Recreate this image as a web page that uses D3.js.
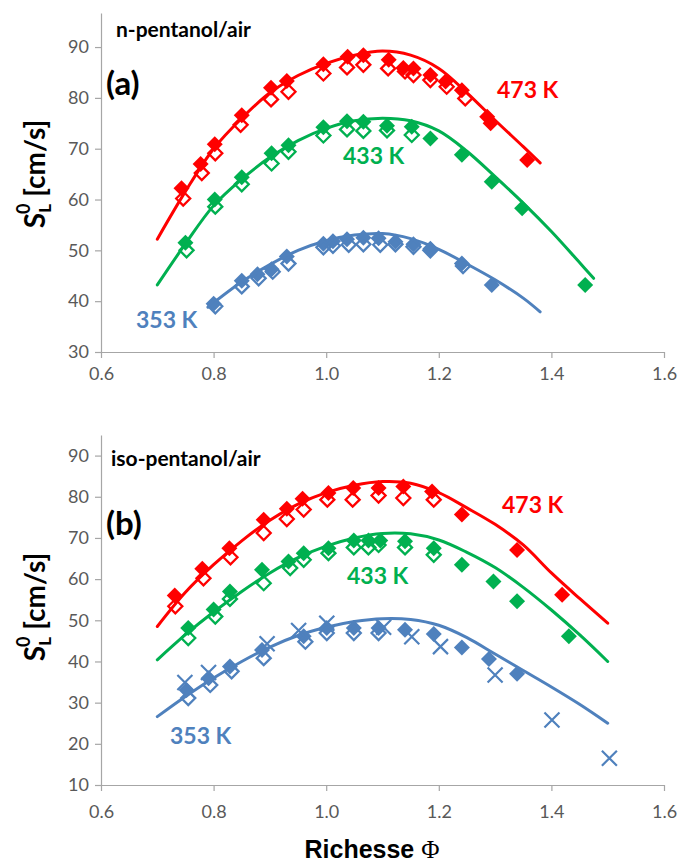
<!DOCTYPE html>
<html>
<head>
<meta charset="utf-8">
<script src="https://cdn.jsdelivr.net/npm/d3@7"></script>
<style>
  html, body { margin: 0; padding: 0; background: #fff; }
  svg { display: block; }
</style>
</head>
<body>
<svg id="chart" width="682" height="862"></svg>
<script>
// ---------------- DATA ----------------
const xTicks = [0.6, 0.8, 1.0, 1.2, 1.4, 1.6];
const yTicksA = [30, 40, 50, 60, 70, 80, 90];
const yTicksB = [10, 20, 30, 40, 50, 60, 70, 80, 90];

// Panel (a) n-pentanol/air — model lines
const lineA473 = [[0.70,52.2],[0.75,61.6],[0.80,70.0],[0.85,76.0],[0.90,81.0],[0.95,84.4],[1.00,86.8],[1.05,88.4],[1.10,89.2],[1.15,88.4],[1.20,85.8],[1.25,81.0],[1.30,75.6],[1.35,70.4],[1.38,67.2]];
const lineA433 = [[0.70,43.2],[0.75,51.3],[0.80,58.8],[0.85,64.0],[0.90,68.3],[0.95,71.6],[1.00,74.0],[1.05,75.5],[1.10,76.0],[1.15,75.5],[1.20,73.5],[1.25,69.5],[1.30,64.5],[1.35,59.3],[1.40,53.7],[1.45,47.6],[1.475,44.5]];
const lineA353 = [[0.79,38.8],[0.85,43.8],[0.90,47.2],[0.95,50.0],[1.00,51.9],[1.05,53.0],[1.10,53.3],[1.15,52.3],[1.20,50.2],[1.25,47.3],[1.30,44.2],[1.35,40.6],[1.38,37.9]];
// Panel (a) measurements: filled and open diamonds
const ptsA473Filled = [[0.743,62.2],[0.777,67.0],[0.802,70.9],[0.850,76.6],[0.902,82.0],[0.930,83.3],[0.995,86.6],[1.038,88.1],[1.066,88.4],[1.111,87.5],[1.137,85.9],[1.155,85.8],[1.185,84.5],[1.212,83.2],[1.241,81.5],[1.286,76.3],[1.292,75.0],[1.357,67.8]];
const ptsA473Open = [[0.746,60.2],[0.779,65.2],[0.803,69.1],[0.848,74.7],[0.902,79.7],[0.933,81.2],[0.995,84.8],[1.037,86.0],[1.066,86.5],[1.110,85.8],[1.140,85.2],[1.155,84.5],[1.185,83.5],[1.214,82.2],[1.247,79.9]];
const ptsA433Filled = [[0.750,51.5],[0.802,60.0],[0.850,64.4],[0.903,69.1],[0.933,70.7],[0.995,74.2],[1.037,75.4],[1.066,75.3],[1.108,74.5],[1.152,74.3],[1.185,72.0],[1.241,68.8],[1.294,63.5],[1.348,58.3],[1.460,43.2]];
const ptsA433Open = [[0.752,50.0],[0.803,58.6],[0.850,63.0],[0.903,67.1],[0.933,69.4],[0.995,72.6],[1.037,73.8],[1.066,73.5],[1.108,73.6],[1.152,72.7]];
const ptsA353Filled = [[0.800,39.5],[0.850,44.0],[0.878,45.3],[0.903,46.3],[0.930,48.8],[0.995,51.3],[1.012,51.8],[1.037,52.2],[1.066,52.5],[1.093,52.4],[1.123,51.7],[1.155,51.2],[1.185,50.3],[1.241,47.4],[1.294,43.2]];
const ptsA353Open = [[0.803,39.0],[0.850,42.9],[0.880,44.5],[0.905,45.8],[0.933,47.4],[0.995,50.6],[1.012,50.9],[1.040,51.1],[1.066,51.2],[1.096,51.1],[1.123,51.2],[1.155,50.7],[1.185,50.0],[1.243,46.9]];

// Panel (b) iso-pentanol/air — model lines
const lineB473 = [[0.70,48.5],[0.75,56.8],[0.80,63.5],[0.85,69.3],[0.90,74.3],[0.95,78.2],[1.00,81.0],[1.05,82.8],[1.10,83.7],[1.15,83.3],[1.20,81.0],[1.25,77.3],[1.30,73.3],[1.35,68.3],[1.40,61.5],[1.45,55.3],[1.50,49.3]];
const lineB433 = [[0.70,40.4],[0.75,46.5],[0.80,52.0],[0.85,57.0],[0.90,61.5],[0.95,65.2],[1.00,68.0],[1.05,70.0],[1.10,71.1],[1.15,71.0],[1.20,69.5],[1.25,66.5],[1.30,62.8],[1.35,58.0],[1.40,52.5],[1.45,46.5],[1.50,40.0]];
const lineB353 = [[0.70,26.6],[0.75,31.5],[0.80,36.0],[0.85,40.0],[0.90,43.5],[0.95,46.3],[1.00,48.3],[1.05,49.7],[1.10,50.4],[1.15,50.2],[1.20,48.8],[1.25,45.8],[1.30,41.8],[1.35,37.8],[1.40,33.8],[1.45,29.6],[1.50,25.0]];
// Panel (b) measurements
const ptsB473Filled = [[0.731,56.0],[0.780,62.5],[0.828,67.5],[0.889,74.4],[0.930,77.1],[0.958,79.5],[1.004,80.9],[1.048,82.1],[1.093,82.1],[1.137,82.5],[1.188,81.3],[1.241,75.7],[1.339,67.1],[1.419,56.2]];
const ptsB473Open = [[0.732,53.4],[0.782,60.2],[0.830,65.3],[0.889,71.2],[0.930,74.6],[0.960,76.9],[1.002,79.3],[1.047,79.3],[1.093,80.3],[1.137,79.7],[1.191,79.3]];
const ptsB433Filled = [[0.755,48.1],[0.800,52.6],[0.829,57.0],[0.886,62.3],[0.933,64.3],[0.960,66.3],[1.004,67.5],[1.049,69.4],[1.075,69.4],[1.096,69.4],[1.140,69.2],[1.191,67.5],[1.241,63.5],[1.297,59.4],[1.339,54.6],[1.431,46.1]];
const ptsB433Open = [[0.755,45.7],[0.803,50.9],[0.829,55.2],[0.889,59.0],[0.936,62.7],[0.960,64.7],[1.004,66.3],[1.049,67.7],[1.075,67.7],[1.093,68.3],[1.140,67.7],[1.191,65.9]];
const ptsB353Filled = [[0.752,33.1],[0.791,35.9],[0.829,38.8],[0.886,42.8],[0.960,46.1],[1.001,48.1],[1.049,48.1],[1.093,48.1],[1.140,47.7],[1.191,46.7],[1.241,43.4],[1.289,40.6],[1.339,37.0]];
const ptsB353Open = [[0.755,31.1],[0.794,34.3],[0.832,37.6],[0.889,40.8],[0.963,44.8],[1.001,46.9],[1.049,46.9],[1.093,46.9]];
const ptsB353Cross = [[0.749,34.9],[0.791,37.3],[0.895,44.3],[0.951,47.5],[1.001,49.3],[1.102,48.3],[1.152,46.0],[1.203,43.6],[1.300,36.7],[1.401,25.8],[1.503,16.5]];

const RED = "#ff0000", GREEN = "#00b050", BLUE = "#4f81bd";

// ---------------- DRAWING ----------------
const svg = d3.select("#chart");
const FONT = "Lato, 'Open Sans', sans-serif";

const x = d3.scaleLinear().domain([0.6, 1.6]).range([101, 664]);
const yA = d3.scaleLinear().domain([30, 96.7]).range([352, 13]);
const yB = d3.scaleLinear().domain([10, 95]).range([785, 435]);

const diamond = r => `M0,${-r}L${r},0L0,${r}L${-r},0Z`;
const cross = r => `M${-r},${-r}L${r},${r}M${-r},${r}L${r},${-r}`;

function drawAxes(g, y, yTicks, xLabelOffset) {
  const gx = g.append("g").attr("transform", `translate(0,${y.range()[0]})`)
    .call(d3.axisBottom(x).tickValues(xTicks).tickFormat(d3.format(".1f")).tickSize(6).tickSizeOuter(0).tickPadding(xLabelOffset));
  const gy = g.append("g").attr("transform", `translate(${x.range()[0]},0)`)
    .call(d3.axisLeft(y).tickValues(yTicks).tickFormat(d3.format("d")).tickSize(6).tickSizeOuter(0).tickPadding(6));
  [gx, gy].forEach(a => {
    a.selectAll("path.domain").attr("stroke", "#a6a6a6").attr("stroke-width", 1.2);
    a.selectAll(".tick line").attr("stroke", "#a6a6a6").attr("stroke-width", 1.2);
    a.selectAll(".tick text").attr("fill", "#595959").style("font-family", FONT).style("font-size", "18px");
  });
}

const line = y => d3.line().x(d => x(d[0])).y(d => y(d[1])).curve(d3.curveCatmullRom.alpha(0.5));

function drawSeries(g, y, lineData, filled, open, color) {
  g.append("path").datum(lineData).attr("d", line(y))
    .attr("fill", "none").attr("stroke", color).attr("stroke-width", 3).attr("stroke-linecap", "round");
  g.append("g").selectAll("path").data(filled).join("path")
    .attr("transform", d => `translate(${x(d[0])},${y(d[1])})`)
    .attr("d", diamond(8)).attr("fill", color);
  g.append("g").selectAll("path").data(open).join("path")
    .attr("transform", d => `translate(${x(d[0])},${y(d[1])})`)
    .attr("d", diamond(7)).attr("fill", "none").attr("stroke", color).attr("stroke-width", 2.3);
}

function yLabel(g, cx, cy) {
  const t = g.append("text")
    .attr("transform", `translate(${cx},${cy}) rotate(-90)`)
    .attr("text-anchor", "middle")
    .style("font-family", FONT).style("font-weight", "bold").style("font-size", "28px").attr("fill", "#000");
  t.append("tspan").text("S");
  t.append("tspan").text("L").style("font-size", "17px").attr("dy", 6);
  t.append("tspan").text("0").style("font-size", "18px").attr("dx", -10).attr("dy", -21);
  t.append("tspan").text(" [cm/s]").attr("dy", 15);
}

function label(g, px, py, txt, color, size, anchor) {
  g.append("text").attr("x", px).attr("y", py).attr("text-anchor", anchor || "start")
    .style("font-family", FONT).style("font-weight", "bold").style("font-size", size + "px")
    .attr("fill", color).text(txt);
}

// Panel (a)
const gA = svg.append("g");
drawAxes(gA, yA, yTicksA, 9);
drawSeries(gA, yA, lineA353, ptsA353Filled, ptsA353Open, BLUE);
drawSeries(gA, yA, lineA433, ptsA433Filled, ptsA433Open, GREEN);
drawSeries(gA, yA, lineA473, ptsA473Filled, ptsA473Open, RED);
label(gA, 116, 37, "n-pentanol/air", "#000", 21);
label(gA, 106, 95, "(a)", "#000", 33);
label(gA, 497, 98, "473 K", RED, 23);
label(gA, 343, 164, "433 K", GREEN, 23);
label(gA, 136, 328, "353 K", BLUE, 23);
yLabel(gA, 45, 174);

// Panel (b)
const gB = svg.append("g");
drawAxes(gB, yB, yTicksB, 14);
drawSeries(gB, yB, lineB353, ptsB353Filled, ptsB353Open, BLUE);
gB.append("g").selectAll("path").data(ptsB353Cross).join("path")
  .attr("transform", d => `translate(${x(d[0])},${yB(d[1])})`)
  .attr("d", cross(7.5)).attr("fill", "none").attr("stroke", BLUE).attr("stroke-width", 2.2);
drawSeries(gB, yB, lineB433, ptsB433Filled, ptsB433Open, GREEN);
drawSeries(gB, yB, lineB473, ptsB473Filled, ptsB473Open, RED);
label(gB, 111, 466, "iso-pentanol/air", "#000", 21);
label(gB, 106, 535, "(b)", "#000", 33);
label(gB, 502, 513, "473 K", RED, 23);
label(gB, 347, 584, "433 K", GREEN, 23);
label(gB, 170, 744, "353 K", BLUE, 23);
yLabel(gB, 45, 607);

// x-axis title
const xt = svg.append("text").attr("x", 372).attr("y", 858).attr("text-anchor", "middle")
  .style("font-family", "'Liberation Sans', Arial, sans-serif").style("font-weight", "bold").style("font-size", "25px").attr("fill", "#000");
xt.append("tspan").text("Richesse ");
xt.append("tspan").text("Φ").style("font-family", "'Liberation Serif', 'DejaVu Serif', serif").style("font-weight", "normal");
</script>
</body>
</html>
